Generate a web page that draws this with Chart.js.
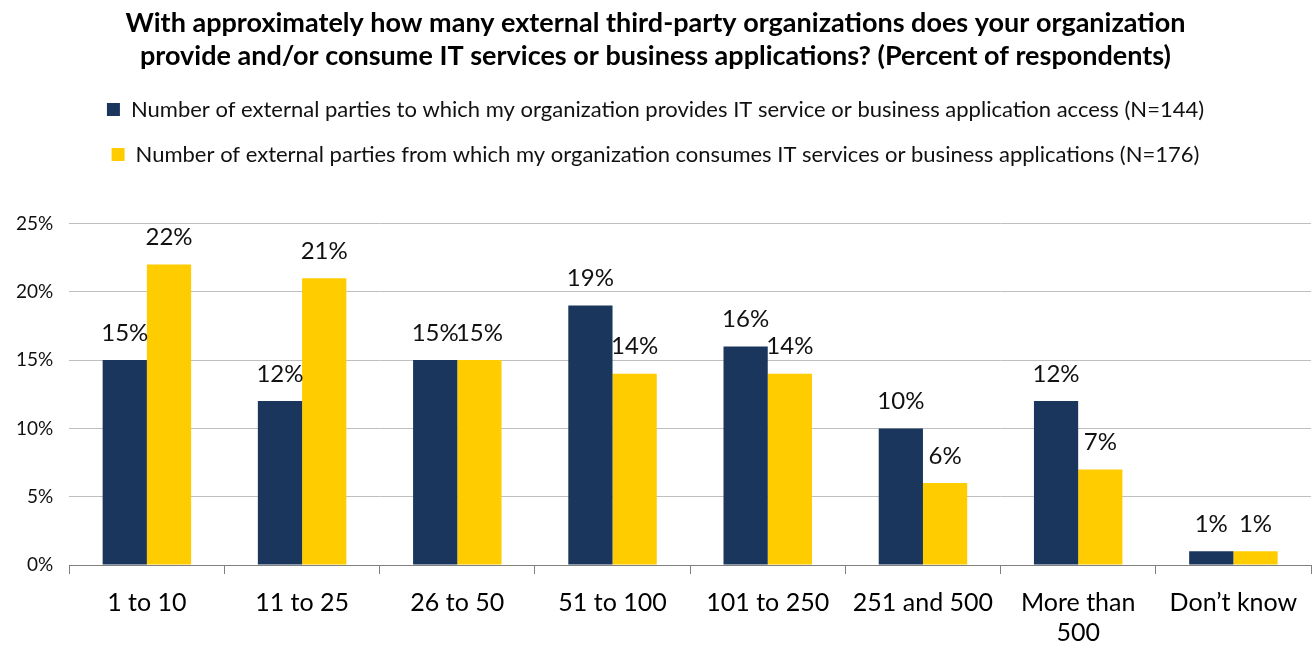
<!DOCTYPE html>
<html>
<head>
<meta charset="utf-8">
<script src="https://cdn.jsdelivr.net/npm/chart.js@4"></script>
<style>
  html, body { margin: 0; padding: 0; background: #fff; overflow: hidden; }
  canvas { display: block; }
</style>
</head>
<body>
<canvas id="chart" width="1314" height="662"></canvas>
<script>
// Survey results (percent of respondents)
const categories = ['1 to 10', '11 to 25', '26 to 50', '51 to 100', '101 to 250', '251 and 500', ['More than', '500'], 'Don\u2019t know'];
const providesValues = [15, 12, 15, 19, 16, 10, 12, 1];
const consumesValues = [22, 21, 15, 14, 14, 6, 7, 1];
const seriesNames = [
    'Number of external parties to which my organization provides IT service or business application access (N=144)',
    'Number of external parties from which my organization consumes IT services or business applications (N=176)'
];
const titleLines = [
    'With approximately how many external third-party organizations does your organization',
    'provide and/or consume IT services or business applications? (Percent of respondents)'
];

const FONT = 'Lato, "Liberation Sans", sans-serif';

// Draw the percent value above each bar
const valueLabels = {
    id: 'valueLabels',
    afterDatasetsDraw(chart) {
        const ctx = chart.ctx;
        ctx.save();
        ctx.font = '24px ' + FONT;
        ctx.fillStyle = '#111';
        ctx.textAlign = 'center';
        ctx.textBaseline = 'middle';
        chart.data.datasets.forEach((ds, i) => {
            chart.getDatasetMeta(i).data.forEach((bar, j) => {
                ctx.fillText(ds.data[j] + '%', bar.x, bar.y - 27);
            });
        });
        ctx.restore();
    }
};

// Extra gap between the legend and the plot
const legendGap = {
    id: 'legendGap',
    beforeInit(chart) {
        const fit = chart.legend.fit;
        chart.legend.fit = function () {
            fit.bind(chart.legend)();
            this.height += 48;
        };
    }
};

new Chart(document.getElementById('chart'), {
    type: 'bar',
    data: {
        labels: categories,
        datasets: [{
            label: seriesNames[0],
            data: providesValues,
            backgroundColor: '#1b365d',
            barPercentage: 1,
            categoryPercentage: 0.57
        }, {
            label: seriesNames[1],
            data: consumesValues,
            backgroundColor: '#ffcc00',
            barPercentage: 1,
            categoryPercentage: 0.57
        }]
    },
    options: {
        responsive: false,
        animation: false,
        layout: { padding: { left: 0, right: 3, top: 6, bottom: 0 } },
        plugins: {
            title: {
                display: true,
                text: titleLines,
                color: '#000',
                font: { family: FONT, size: 27, weight: 'bold', lineHeight: 1.25 },
                padding: { top: 0, bottom: 2 }
            },
            legend: {
                position: 'top',
                labels: {
                    color: '#111',
                    font: { family: FONT, size: 22 },
                    boxWidth: 13,
                    boxHeight: 13,
                    padding: 23
                }
            },
            tooltip: { enabled: false }
        },
        scales: {
            x: {
                grid: {
                    offset: true,
                    drawOnChartArea: false,
                    tickLength: 9,
                    color: '#808080'
                },
                border: { color: '#808080' },
                ticks: {
                    color: '#000',
                    font: { family: FONT, size: 25 },
                    maxRotation: 0,
                    padding: 14
                }
            },
            y: {
                min: 0,
                max: 25,
                ticks: {
                    stepSize: 5,
                    color: '#111',
                    font: { family: FONT, size: 19 },
                    padding: 16,
                    callback: v => v + '%'
                },
                grid: { color: '#bfbfbf', drawTicks: false },
                border: { display: false }
            }
        }
    },
    plugins: [valueLabels, legendGap]
});
</script>
</body>
</html>
